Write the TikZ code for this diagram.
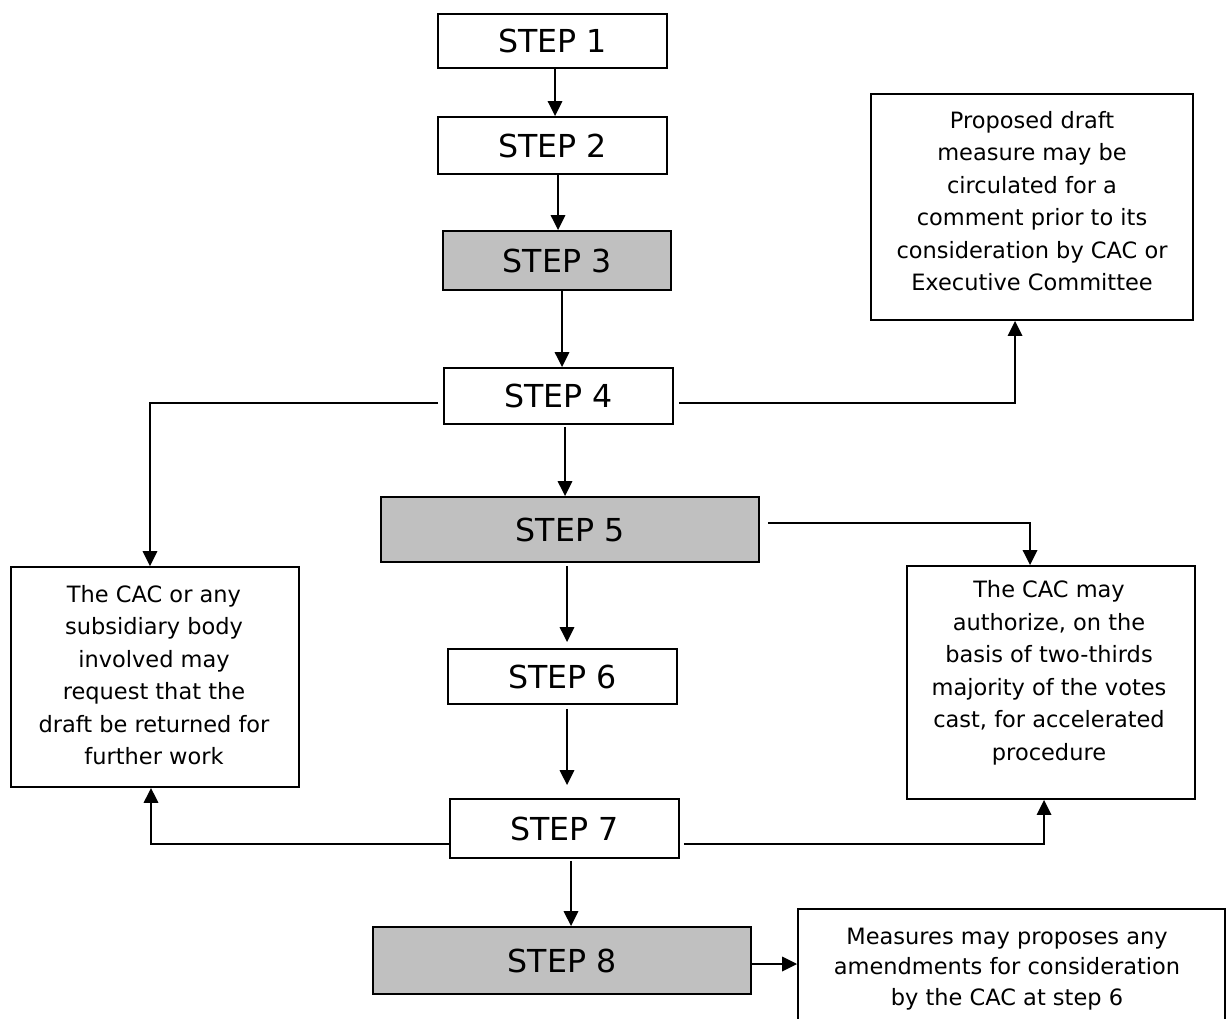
\documentclass[tikz,border=0pt]{standalone}
\usepackage{fontspec}
\setmainfont{DejaVu Sans}
\usetikzlibrary{arrows.meta}
\definecolor{boxgray}{HTML}{C0C0C0}
\begin{document}
\begin{tikzpicture}[x=0.02cm, y=-0.02cm,
  box/.style={draw, line width=1.1pt, inner sep=0pt, font=\fontsize{18}{22}\selectfont},
  stepbox/.style={box},
  graybox/.style={box, fill=boxgray},
  note/.style={draw, line width=1.1pt, inner sep=0pt},
  notetext/.style={align=center, font=\fontsize{12.8}{18.5}\selectfont, inner sep=0pt},
  arr/.style={line width=1pt, -{Triangle[length=0.3cm,width=0.29cm]}},
  ln/.style={line width=1pt}]
\useasboundingbox (0,0) rectangle (1227,1018);

% step boxes
\node[stepbox, minimum width=4.58cm, minimum height=1.08cm] (s1) at (552.5,41) {STEP 1};
\node[stepbox, minimum width=4.58cm, minimum height=1.14cm] (s2) at (552.5,145.5) {STEP 2};
\node[graybox, minimum width=4.56cm, minimum height=1.18cm] (s3) at (557,260.5) {STEP 3};
\node[stepbox, minimum width=4.58cm, minimum height=1.12cm] (s4) at (558.5,396) {STEP 4};
\node[graybox, minimum width=7.56cm, minimum height=1.30cm] (s5) at (570,529.5) {STEP 5};
\node[stepbox, minimum width=4.58cm, minimum height=1.10cm] (s6) at (562.5,676.5) {STEP 6};
\node[stepbox, minimum width=4.58cm, minimum height=1.18cm] (s7) at (564.5,828.5) {STEP 7};
\node[graybox, minimum width=7.56cm, minimum height=1.34cm] (s8) at (562,960.5) {STEP 8};

% note boxes
\node[note, minimum width=6.44cm, minimum height=4.52cm] (tr) at (1032,207) {};
\node[note, minimum width=5.76cm, minimum height=4.40cm] (lb) at (155,677) {};
\node[note, minimum width=5.76cm, minimum height=4.66cm] (rm) at (1051,682.5) {};
\node[note, minimum width=8.54cm, minimum height=2.62cm] (bb) at (1011.5,974.5) {};

% note texts
\node[notetext] (trt) at (1032,201) {Proposed draft\\measure may be\\circulated for a\\comment prior to its\\consideration by CAC or\\Executive Committee};
\node[notetext] (lbt) at (154,675) {The CAC or any\\subsidiary body\\involved may\\request that the\\draft be returned for\\further work};
\node[notetext] (rmt) at (1049,673) {The CAC may\\authorize, on the\\basis of two-thirds\\majority of the votes\\cast, for accelerated\\procedure};
\node[notetext, font=\fontsize{12.8}{17.5}\selectfont] (bbt) at (1007,969) {Measures may proposes any\\amendments for consideration\\by the CAC at step 6};

% vertical flow
\draw[arr] ([xshift=0.05cm]s1.south) -- ([xshift=0.05cm]s1.south |- s2.north);
\draw[arr] ([xshift=0.11cm]s2.south) -- ([xshift=0.11cm]s2.south |- s3.north);
\draw[arr] ([xshift=0.10cm]s3.south) -- ([xshift=0.10cm]s3.south |- s4.north);
\draw[arr] ([shift={(0.13cm,-0.04cm)}]s4.south) -- ([xshift=0.13cm]s4.south |- s5.north);
\draw[arr] ([shift={(-0.06cm,-0.06cm)}]s5.south) -- ([shift={(-0.06cm,0.12cm)}]s5.south |- s6.north);
\draw[arr] ([shift={(0.09cm,-0.08cm)}]s6.south) -- ([shift={(0.09cm,0.26cm)}]s6.south |- s7.north);
\draw[arr] ([shift={(0.13cm,-0.04cm)}]s7.south) -- ([xshift=0.13cm]s7.south |- s8.north);
\draw[arr] ([yshift=-0.07cm]s8.east) -- ([yshift=-0.07cm]s8.east -| bb.west);

% side branches
\draw[arr] ([shift={(-0.1cm,-0.14cm)}]s4.west) -| ([xshift=-0.1cm]lb.north);
\draw[arr] ([shift={(0.1cm,-0.14cm)}]s4.east) -| ([xshift=-0.34cm]tr.south);
\draw[arr] ([shift={(0.16cm,0.13cm)}]s5.east) -| ([xshift=-0.42cm]rm.north);
\draw[arr] ([yshift=-0.31cm]s7.west) -| ([xshift=-0.08cm]lb.south);
\draw[arr] ([shift={(0.08cm,-0.31cm)}]s7.east) -| ([xshift=-0.14cm]rm.south);
\end{tikzpicture}
\end{document}
